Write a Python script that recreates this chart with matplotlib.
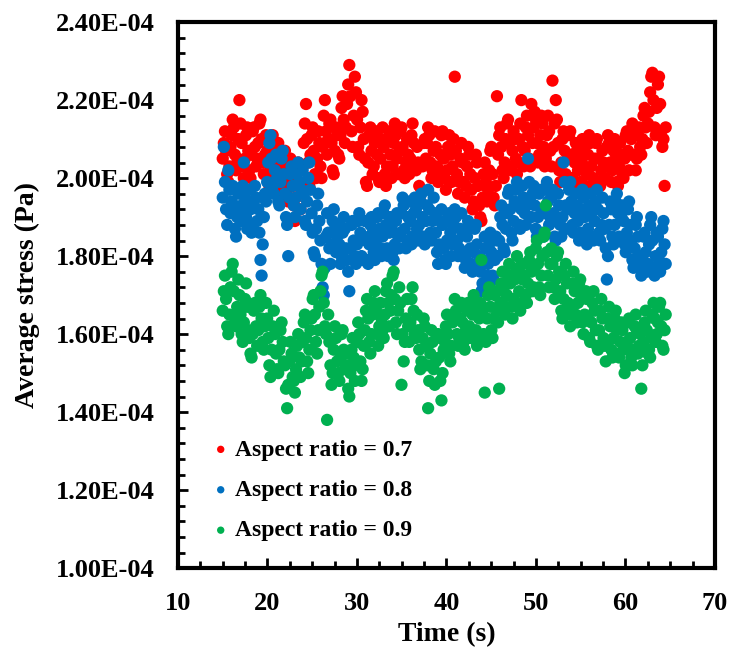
import numpy as np
import matplotlib
matplotlib.use("Agg")
import matplotlib.pyplot as plt
from matplotlib.ticker import FuncFormatter, MultipleLocator

plt.rcParams['font.family'] = ['Liberation Serif', 'DejaVu Serif']
plt.rcParams['font.weight'] = 'bold'

# time axis: 400 samples between 15 s and 64.5 s (8 per second)
time_s = np.linspace(15.0, 64.5, 400)

# average stress, in units of 1E-06 Pa, one row per second
stress_ar07 = [
    205, 209, 212, 207, 201, 199, 203, 208,
    211, 215, 213, 206, 202, 204, 210, 220,
    214, 209, 203, 200, 205, 211, 213, 207,
    202, 200, 206, 212, 213, 208, 203, 205,
    209, 214, 215, 210, 204, 201, 206, 211,
    207, 201, 198, 203, 209, 211, 205, 200,
    203, 208, 209, 202, 197, 196, 201, 206,
    207, 203, 197, 194, 199, 205, 204, 198,
    193, 189, 195, 202, 204, 199, 192, 197,
    203, 209, 214, 219, 210, 204, 198, 206,
    211, 213, 207, 201, 200, 205, 212, 209,
    203, 200, 208, 216, 220, 212, 206, 210,
    214, 215, 209, 202, 201, 207, 213, 211,
    206, 205, 211, 218, 221, 215, 209, 213,
    219, 224, 229, 221, 212, 208, 216, 226,
    222, 215, 208, 206, 213, 220, 217, 210,
    205, 199, 198, 204, 211, 213, 207, 201,
    203, 209, 212, 206, 200, 199, 205, 210,
    213, 208, 201, 198, 203, 210, 212, 206,
    200, 203, 209, 214, 211, 205, 201, 207,
    212, 213, 208, 202, 200, 204, 210, 206,
    201, 205, 211, 214, 209, 203, 202, 208,
    204, 198, 194, 197, 203, 209, 210, 205,
    209, 213, 211, 204, 200, 202, 207, 212,
    208, 203, 199, 201, 206, 211, 212, 205,
    200, 197, 202, 208, 211, 206, 199, 203,
    210, 226, 207, 201, 196, 199, 205, 209,
    204, 199, 195, 198, 203, 208, 206, 201,
    197, 192, 194, 200, 206, 204, 198, 193,
    190, 189, 195, 201, 204, 199, 194, 197,
    202, 207, 208, 201, 195, 193, 198, 221,
    206, 211, 213, 208, 202, 200, 204, 210,
    214, 215, 209, 203, 202, 207, 212, 210,
    205, 201, 204, 210, 214, 220, 208, 203,
    207, 213, 216, 211, 205, 203, 219, 209,
    213, 217, 215, 209, 204, 206, 211, 216,
    214, 208, 203, 205, 211, 216, 212, 207,
    203, 225, 208, 214, 220, 215, 209, 202,
    199, 204, 210, 212, 207, 201, 200, 206,
    211, 212, 206, 200, 199, 204, 209, 207,
    202, 197, 199, 205, 210, 208, 203, 198,
    201, 206, 211, 209, 203, 198, 200, 205,
    209, 210, 205, 199, 198, 202, 207, 204,
    200, 203, 208, 211, 209, 204, 199, 202,
    207, 210, 205, 199, 198, 203, 209, 206,
    201, 200, 205, 211, 212, 207, 202, 206,
    210, 214, 212, 206, 202, 205, 211, 213,
    208, 206, 210, 216, 218, 213, 209, 214,
    217, 222, 226, 227, 220, 213, 211, 218,
    224, 226, 219, 212, 208, 210, 198, 213,
]
stress_ar08 = [
    195, 208, 199, 192, 188, 202, 197, 191,
    194, 198, 193, 187, 185, 190, 196, 192,
    189, 193, 198, 204, 195, 190, 187, 194,
    197, 192, 186, 188, 194, 198, 195, 189,
    192, 186, 179, 175, 183, 190, 196, 194,
    199, 204, 209, 211, 205, 198, 196, 202,
    206, 200, 194, 193, 199, 205, 207, 201,
    196, 190, 188, 180, 195, 201, 203, 198,
    193, 190, 195, 201, 204, 199, 192, 197,
    202, 196, 189, 188, 194, 200, 204, 197,
    191, 186, 181, 180, 187, 193, 196, 189,
    184, 178, 172, 170, 177, 185, 191, 186,
    182, 178, 183, 189, 192, 187, 181, 185,
    188, 183, 178, 180, 186, 190, 187, 182,
    179, 176, 171, 182, 188, 189, 184, 180,
    178, 183, 189, 191, 186, 180, 179, 185,
    189, 184, 179, 178, 183, 188, 190, 186,
    181, 179, 184, 190, 191, 187, 182, 180,
    185, 191, 193, 188, 182, 180, 186, 190,
    187, 181, 179, 183, 189, 191, 185, 182,
    186, 191, 195, 193, 187, 182, 184, 190,
    194, 189, 183, 185, 191, 195, 192, 187,
    184, 188, 194, 196, 190, 185, 183, 189,
    193, 197, 192, 186, 184, 189, 195, 191,
    186, 181, 178, 183, 189, 192, 188, 182,
    179, 178, 184, 190, 191, 186, 180, 183,
    188, 192, 190, 184, 180, 182, 187, 191,
    186, 181, 177, 179, 185, 189, 187, 182,
    178, 176, 181, 187, 188, 183, 177, 180,
    176, 171, 173, 179, 185, 182, 175, 178,
    183, 186, 181, 175, 174, 179, 185, 184,
    180, 184, 190, 193, 188, 182, 181, 187,
    191, 196, 197, 192, 186, 184, 189, 194,
    197, 199, 193, 188, 187, 192, 198, 195,
    191, 188, 193, 205, 199, 194, 190, 196,
    198, 193, 187, 185, 190, 196, 197, 191,
    186, 185, 191, 197, 199, 194, 188, 190,
    195, 197, 191, 185, 184, 189, 196, 193,
    188, 185, 190, 204, 199, 193, 187, 192,
    197, 199, 194, 188, 186, 191, 196, 193,
    189, 184, 186, 192, 197, 195, 190, 185,
    183, 187, 193, 196, 191, 185, 184, 189,
    194, 197, 192, 186, 184, 188, 195, 191,
    187, 182, 174, 180, 188, 194, 192, 185,
    183, 188, 194, 196, 191, 185, 184, 190,
    193, 189, 183, 181, 186, 192, 194, 188,
    184, 179, 177, 182, 188, 190, 185, 180,
    177, 175, 179, 185, 186, 181, 176, 178,
    183, 188, 190, 184, 177, 175, 180, 186,
    185, 179, 176, 181, 187, 189, 183, 178,
]
stress_ar09 = [
    166, 171, 175, 169, 162, 160, 165, 172,
    176, 178, 171, 164, 162, 167, 174, 170,
    165, 160, 158, 163, 169, 173, 167, 161,
    159, 155, 154, 160, 166, 168, 162, 157,
    161, 167, 170, 164, 158, 156, 162, 168,
    164, 159, 152, 149, 156, 162, 166, 160,
    155, 151, 150, 156, 161, 163, 158, 153,
    152, 146, 141, 147, 153, 158, 155, 149,
    148, 145, 151, 157, 160, 154, 149, 153,
    158, 163, 165, 159, 153, 150, 156, 161,
    164, 169, 170, 165, 158, 155, 161, 167,
    171, 175, 176, 168, 162, 160, 138, 165,
    158, 152, 147, 150, 156, 162, 159, 153,
    150, 148, 154, 160, 161, 156, 151, 155,
    152, 146, 144, 150, 156, 159, 154, 148,
    152, 158, 163, 160, 153, 148, 151, 157,
    161, 166, 169, 164, 158, 155, 160, 165,
    168, 171, 166, 160, 157, 162, 168, 164,
    161, 159, 165, 171, 173, 168, 162, 166,
    170, 175, 176, 169, 163, 160, 166, 172,
    168, 147, 160, 153, 158, 164, 169, 162,
    158, 163, 169, 172, 166, 160, 159, 165,
    161, 156, 151, 153, 159, 164, 162, 157,
    152, 141, 148, 155, 161, 158, 151, 147,
    153, 159, 160, 154, 148, 143, 150, 156,
    158, 162, 165, 160, 155, 153, 157, 163,
    165, 169, 166, 160, 157, 159, 164, 168,
    163, 158, 156, 161, 166, 168, 162, 159,
    160, 165, 170, 167, 161, 157, 158, 164,
    168, 179, 166, 160, 145, 158, 164, 170,
    172, 167, 161, 159, 164, 170, 171, 166,
    163, 146, 168, 173, 176, 171, 165, 167,
    170, 175, 178, 173, 167, 164, 169, 174,
    176, 180, 177, 171, 166, 168, 174, 178,
    175, 170, 168, 173, 179, 181, 176, 171,
    172, 177, 182, 184, 178, 172, 170, 175,
    180, 185, 186, 193, 181, 175, 172, 178,
    182, 178, 172, 169, 174, 180, 181, 176,
    171, 166, 164, 169, 175, 178, 173, 168,
    165, 162, 167, 173, 176, 171, 165, 163,
    168, 173, 174, 169, 163, 160, 165, 171,
    169, 164, 159, 158, 163, 168, 171, 166,
    161, 157, 156, 161, 166, 169, 164, 159,
    157, 153, 158, 164, 167, 162, 156, 154,
    159, 164, 166, 161, 155, 154, 158, 163,
    161, 156, 150, 152, 158, 163, 164, 159,
    154, 152, 156, 162, 165, 161, 155, 157,
    160, 146, 152, 158, 163, 166, 161, 155,
    156, 154, 159, 165, 168, 164, 158, 160,
    163, 167, 168, 162, 157, 156, 161, 165,
]

labels = ['Aspect ratio = 0.7', 'Aspect ratio = 0.8', 'Aspect ratio = 0.9']
colors = ['#FF0000', '#0070C0', '#00B050']

fig = plt.figure(figsize=(7.34, 6.5), dpi=100)
ax = fig.add_axes([0.2425, 0.126, 0.7315, 0.84])

for ys, lab, c in zip([stress_ar07, stress_ar08, stress_ar09], labels, colors):
    ax.scatter(time_s, np.array(ys) * 1e-6, s=78, color=c, edgecolors='none', label=lab)

ax.set_xlim(10, 70)
ax.set_ylim(1.0e-4, 2.4e-4)
ax.xaxis.set_major_locator(MultipleLocator(10))
ax.xaxis.set_minor_locator(MultipleLocator(2.5))
ax.yaxis.set_major_locator(MultipleLocator(0.2e-4))
ax.yaxis.set_minor_locator(MultipleLocator(0.04e-4))
ax.yaxis.set_major_formatter(FuncFormatter(lambda v, p: f"{v:.2E}"))

ax.tick_params(which='both', direction='in', width=2, labelsize=19)
ax.tick_params(which='major', length=7, pad=17)
ax.tick_params(which='minor', length=5)
for s in ax.spines.values():
    s.set_linewidth(3)

ax.set_xlabel('Time (s)', fontsize=20, fontweight='bold', labelpad=5)
ax.set_ylabel('Average stress (Pa)', fontsize=20, fontweight='bold', labelpad=11)

ax.legend(loc='lower left', bbox_to_anchor=(0.018, 0.01), frameon=False, fontsize=17,
          markerscale=0.6, handletextpad=0.1, handlelength=1.0, labelspacing=0.8)

fig.savefig('out.png', dpi=100)
